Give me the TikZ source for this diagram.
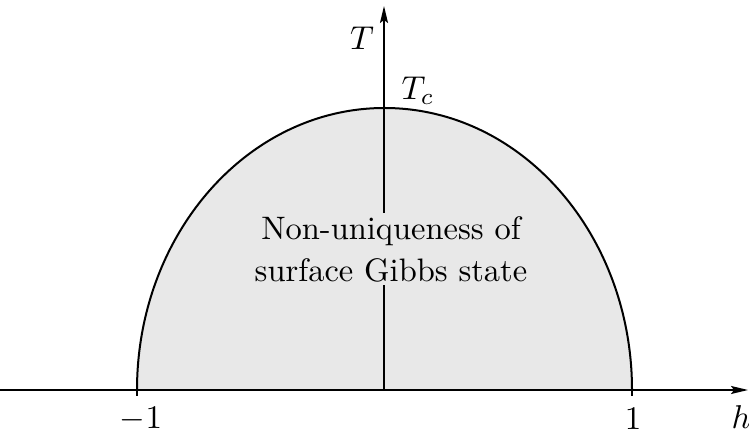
\documentclass[tikz,border=0pt]{standalone}
\usetikzlibrary{arrows.meta}
\begin{document}
\begin{tikzpicture}[x=1pt,y=1pt,
  axis/.style={line width=1.7pt,-{Stealth[length=17pt,width=8pt,inset=3pt]}},
  region/.style={fill=black!9},
  bound/.style={line width=2pt},
  tick/.style={line width=1.7pt},
  lbl/.style={inner sep=1pt,scale=3.25,font=\fontsize{10}{12.9}\selectfont},
  mlbl/.style={inner sep=0pt,scale=3.3}]
\useasboundingbox (0,0) rectangle (749,435);
\coordinate (O) at (384,45);
\coordinate (xs) at (0,45);
\coordinate (xe) at (748,45);
\coordinate (ye) at (384,429);
\coordinate (L) at (137,45);
\coordinate (R) at (632,45);
\coordinate (Lt) at (137,39);
\coordinate (Rt) at (632,39);
\fill[region] (L) arc[start angle=180,end angle=0,x radius=247.5,y radius=282] -- cycle;
\draw[bound] (L) arc[start angle=180,end angle=0,x radius=247.5,y radius=282];
\draw[axis] (O) -- (ye);
\node[lbl,region,align=center] (txt) at (391,186) {Non-uniqueness of\\surface Gibbs state};
\draw[axis] (xs) -- (xe);
\draw[tick] (L) -- (Lt);
\draw[tick] (R) -- (Rt);
\node[mlbl] (Tl) at (362,397) {$T$};
\node[mlbl] (Tc) at (418,344) {$T_c$};
\node[mlbl] (m1) at (141,16) {$-1$};
\node[mlbl] (p1) at (633,16) {$1$};
\node[mlbl] (hl) at (741,18) {$h$};
\end{tikzpicture}
\end{document}
